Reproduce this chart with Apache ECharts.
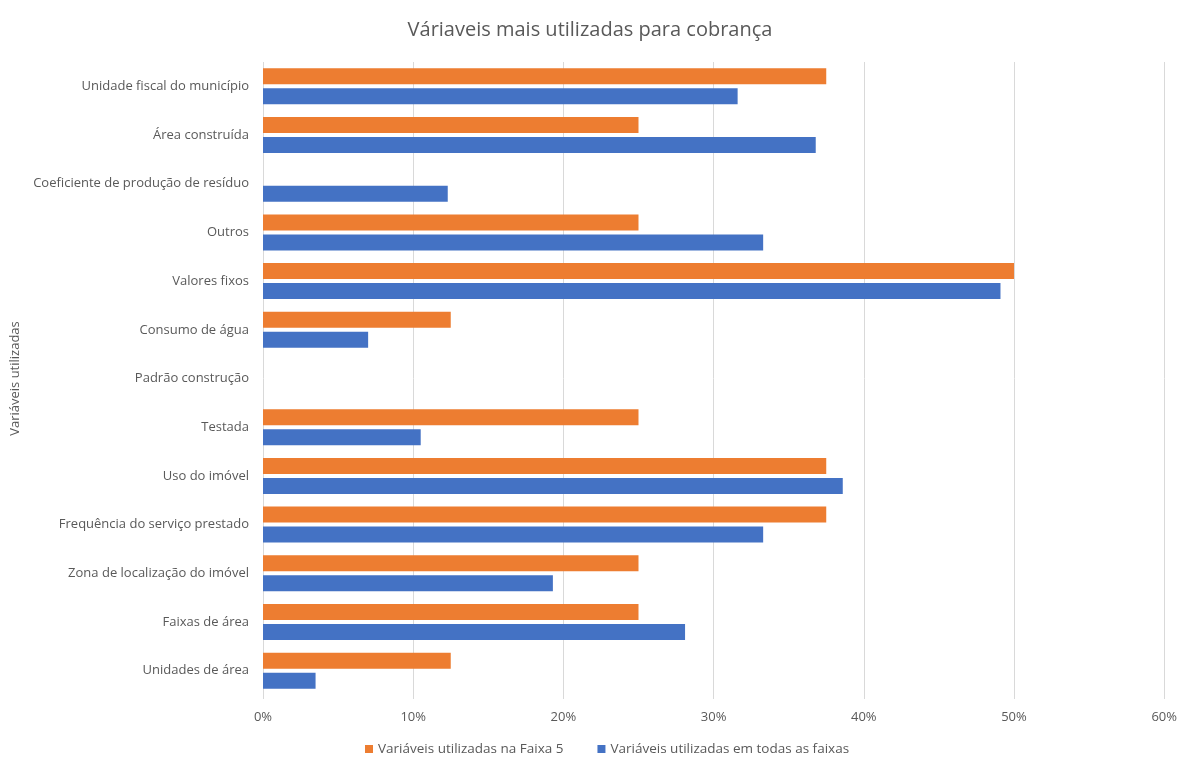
<!DOCTYPE html>
<html>
<head>
<meta charset="utf-8">
<script src="https://cdn.jsdelivr.net/npm/echarts@6/dist/echarts.min.js"></script>
<style>
  html, body { margin: 0; padding: 0; background: #fff; }
  #chart { width: 1180px; height: 757px; }
</style>
</head>
<body>
<div id="chart"></div>
<script>
// Variables used for charging, top to bottom
const categories = [
  'Unidade fiscal do município',
  'Área construída',
  'Coeficiente de produção de resíduo',
  'Outros',
  'Valores fixos',
  'Consumo de água',
  'Padrão construção',
  'Testada',
  'Uso do imóvel',
  'Frequência do serviço prestado',
  'Zona de localização do imóvel',
  'Faixas de área',
  'Unidades de área'
];

// Share (%) of municipalities in Faixa 5
const faixa5 = [37.5, 25, 0, 25, 50, 12.5, 0, 25, 37.5, 37.5, 25, 25, 12.5];
// Share (%) across all ranges
const todasFaixas = [31.6, 36.8, 12.3, 33.3, 49.1, 7.0, 0, 10.5, 38.6, 33.3, 19.3, 28.1, 3.5];

const xTicks = [0, 10, 20, 30, 40, 50, 60];

const FONT = '"Open Sans", "Noto Sans", sans-serif';
const TEXT = '#595959';

const chart = echarts.init(document.getElementById('chart'));
chart.setOption({
  animation: false,
  textStyle: { fontFamily: FONT },
  title: {
    text: 'Váriaveis mais utilizadas para cobrança',
    left: 'center',
    top: 15,
    textStyle: { fontFamily: FONT, fontSize: 20, fontWeight: 'normal', color: TEXT }
  },
  legend: {
    top: 737,
    left: 360,
    itemWidth: 8,
    itemHeight: 8,
    itemGap: 34,
    icon: 'rect',
    textStyle: { fontFamily: FONT, fontSize: 13.5, color: TEXT }
  },
  grid: { left: 263, right: 13, top: 62, bottom: 62, containLabel: false },
  xAxis: {
    type: 'value',
    min: xTicks[0],
    max: xTicks[xTicks.length - 1],
    interval: 10,
    axisLabel: {
      formatter: v => v + '%',
      fontFamily: FONT, fontSize: 13, color: TEXT, margin: 16
    },
    axisLine: { show: false },
    axisTick: { show: true, length: 4, lineStyle: { color: '#d9d9d9' } },
    splitLine: { lineStyle: { color: '#d9d9d9', width: 1 } }
  },
  yAxis: {
    type: 'category',
    data: categories,
    inverse: true,
    name: 'Variáveis utilizadas',
    nameLocation: 'middle',
    nameGap: 240,
    nameRotate: 90,
    nameTextStyle: { fontFamily: FONT, fontSize: 13, color: TEXT },
    axisLine: { show: false },
    axisTick: { show: false },
    axisLabel: { fontFamily: FONT, fontSize: 13, color: TEXT, margin: 14 }
  },
  series: [
    {
      name: 'Variáveis utilizadas na Faixa 5',
      type: 'bar',
      data: faixa5,
      barWidth: 16,
      barGap: '25%',
      itemStyle: { color: '#ED7D31' }
    },
    {
      name: 'Variáveis utilizadas em todas as faixas',
      type: 'bar',
      data: todasFaixas,
      barWidth: 16,
      barGap: '25%',
      itemStyle: { color: '#4472C4' }
    }
  ]
});
</script>
</body>
</html>
